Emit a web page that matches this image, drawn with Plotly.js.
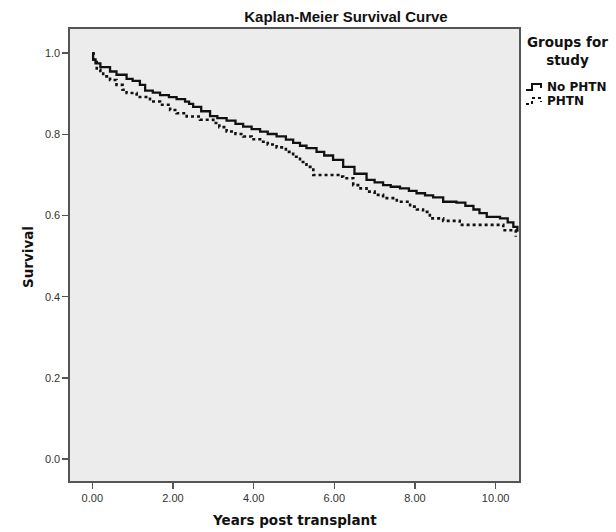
<!DOCTYPE html>
<html>
<head>
<meta charset="utf-8">
<script src="https://cdn.plot.ly/plotly-3.0.1.min.js"></script>
<style>html,body{margin:0;padding:0;background:#fff;}#chart{width:616px;height:532px;}</style>
</head>
<body>
<div id="chart"></div>
<script>
// Data (Kaplan-Meier step curves)
const noPhtnTime = [0, 0.02, 0.08, 0.2, 0.44, 0.6, 0.85, 1.0, 1.18, 1.31, 1.5, 1.68, 1.9, 2.09, 2.3, 2.4, 2.5, 2.7, 2.92, 3.1, 3.33, 3.55, 3.74, 3.95, 4.16, 4.35, 4.57, 4.8, 4.98, 5.15, 5.31, 5.56, 5.75, 5.97, 6.22, 6.5, 6.8, 7.0, 7.21, 7.4, 7.63, 7.85, 8.04, 8.25, 8.45, 8.70, 9.03, 9.25, 9.45, 9.6, 9.78, 10.11, 10.3, 10.44, 10.54];
const noPhtnSurv = [1.0, 0.985, 0.975, 0.966, 0.955, 0.947, 0.937, 0.932, 0.922, 0.908, 0.903, 0.897, 0.892, 0.887, 0.881, 0.875, 0.868, 0.857, 0.845, 0.840, 0.834, 0.826, 0.819, 0.813, 0.807, 0.801, 0.795, 0.787, 0.779, 0.772, 0.766, 0.757, 0.748, 0.737, 0.720, 0.703, 0.688, 0.682, 0.675, 0.671, 0.667, 0.661, 0.655, 0.650, 0.645, 0.634, 0.632, 0.624, 0.615, 0.606, 0.597, 0.593, 0.583, 0.572, 0.560];
const phtnTime = [0, 0.03, 0.11, 0.2, 0.27, 0.44, 0.6, 0.75, 0.85, 1.1, 1.43, 1.68, 1.93, 2.09, 2.34, 2.67, 3.0, 3.15, 3.33, 3.55, 3.74, 3.95, 4.16, 4.35, 4.57, 4.8, 4.98, 5.15, 5.31, 5.48, 6.1, 6.22, 6.47, 6.65, 6.80, 7.0, 7.21, 7.55, 7.88, 8.05, 8.20, 8.37, 8.70, 9.11, 10.19, 10.5];
const phtnSurv = [1.0, 0.984, 0.959, 0.950, 0.943, 0.934, 0.922, 0.910, 0.902, 0.892, 0.881, 0.873, 0.860, 0.852, 0.844, 0.836, 0.828, 0.818, 0.807, 0.801, 0.795, 0.788, 0.782, 0.775, 0.768, 0.757, 0.745, 0.732, 0.720, 0.700, 0.696, 0.692, 0.675, 0.667, 0.659, 0.651, 0.643, 0.634, 0.622, 0.615, 0.609, 0.593, 0.587, 0.577, 0.564, 0.548];
const groupNames = ["No PHTN", "PHTN"];
const xTickVals = [0, 2, 4, 6, 8, 10];
const yTickVals = [0, 0.2, 0.4, 0.6, 0.8, 1.0];

const ARIAL = "Arial, 'Liberation Sans', Helvetica, sans-serif";
const DEJA = "'DejaVu Sans', Verdana, sans-serif";
const W = 616, H = 532;
const L = 70, R = 519, T = 29, B = 481;
const px = x => (x - L) / (R - L);
const py = y => (B - y) / (B - T);

const traces = [
  {x: noPhtnTime, y: noPhtnSurv, name: groupNames[0], type: 'scatter', mode: 'lines',
   line: {shape: 'hv', color: '#111', width: 2.3}},
  {x: phtnTime, y: phtnSurv, name: groupNames[1], type: 'scatter', mode: 'lines',
   line: {shape: 'hv', color: '#111', width: 2.6, dash: 'dot'}}
];

function legPath(x0, yLow, yHigh) {
  return 'M' + px(x0) + ',' + py(yLow) + ' H' + px(x0 + 6) + ' V' + py(yHigh) +
         ' H' + px(x0 + 15) + ' V' + py(yHigh + 4);
}

const axisCommon = {showgrid: false, zeroline: false, showline: true, mirror: true,
  linecolor: '#555', linewidth: 1.6, ticks: 'outside', ticklen: 6, tickcolor: '#555', tickwidth: 1.5,
  tickfont: {family: ARIAL, size: 11, color: '#333'}};

const layout = {
  width: W, height: H,
  margin: {l: L, r: W - R, t: T, b: H - B, pad: 0},
  paper_bgcolor: '#ffffff',
  plot_bgcolor: '#ececec',
  showlegend: false,
  font: {family: ARIAL, size: 11, color: '#333'},
  title: {text: 'Kaplan-Meier Survival Curve', font: {family: ARIAL, size: 15, color: '#111', weight: 'bold'},
          xref: 'container', x: 346 / W, xanchor: 'center', yref: 'container', y: 1 - 17 / H, yanchor: 'middle'},
  xaxis: Object.assign({range: [-0.553, 10.58], tickvals: xTickVals, tickformat: '.2f'}, axisCommon),
  yaxis: Object.assign({range: [-0.054, 1.0597], tickvals: yTickVals, tickformat: '.1f'}, axisCommon),
  annotations: [
    {text: 'Survival', xref: 'paper', yref: 'paper', x: px(28), y: py(257), textangle: -90,
     xanchor: 'center', yanchor: 'middle',
     showarrow: false, font: {family: DEJA, size: 13.5, color: '#111', weight: 'bold'}},
    {text: 'Years post transplant', xref: 'paper', yref: 'paper', x: px(294.5), y: py(520),
     xanchor: 'center', yanchor: 'middle',
     showarrow: false, font: {family: DEJA, size: 13.5, color: '#111', weight: 'bold'}},
    {text: 'Groups for<br>study', xref: 'paper', yref: 'paper', x: px(567), y: py(51),
     xanchor: 'center', yanchor: 'middle',
     showarrow: false, align: 'center', font: {family: DEJA, size: 13.5, color: '#111', weight: 'bold'}},
    {text: groupNames[0], xref: 'paper', yref: 'paper', x: px(545), y: py(87), xanchor: 'left', yanchor: 'middle',
     showarrow: false, font: {family: DEJA, size: 12, color: '#111', weight: 'bold'}},
    {text: groupNames[1], xref: 'paper', yref: 'paper', x: px(545), y: py(101), xanchor: 'left', yanchor: 'middle',
     showarrow: false, font: {family: DEJA, size: 12, color: '#111', weight: 'bold'}}
  ],
  shapes: [
    {type: 'path', xref: 'paper', yref: 'paper', path: legPath(526, 90, 84), line: {color: '#111', width: 2}},
    {type: 'path', xref: 'paper', yref: 'paper', path: legPath(526, 104, 98), line: {color: '#111', width: 2, dash: 'dot'}}
  ]
};

Plotly.newPlot('chart', traces, layout, {staticPlot: true, displayModeBar: false});
</script>
</body>
</html>
